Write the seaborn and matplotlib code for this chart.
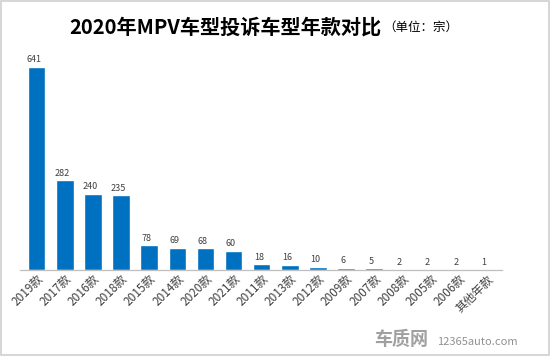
import matplotlib
matplotlib.use("Agg")
import matplotlib.pyplot as plt
import pandas as pd
import seaborn as sns
from matplotlib.patches import Rectangle

# Data
years = ["2019款", "2017款", "2016款", "2018款", "2015款", "2014款", "2020款", "2021款",
         "2011款", "2013款", "2012款", "2009款", "2007款", "2008款", "2005款", "2006款", "其他年款"]
complaints = [641, 282, 240, 235, 78, 69, 68, 60, 18, 16, 10, 6, 5, 2, 2, 2, 1]

df = pd.DataFrame({"year": years, "count": complaints})

sns.set_theme(style="white")
plt.rcParams["font.family"] = ["Noto Sans CJK SC", "DejaVu Sans"]

fig = plt.figure(figsize=(5.5, 3.56), dpi=100)
ax = fig.add_axes([0.036, 0.242, 0.877, 0.623])

sns.barplot(df, x="year", y="count", color="#0070C0", saturation=1, width=0.62, ax=ax)

ax.set_ylim(0, 700)
ax.set_xlim(-0.6, len(years) - 0.45)
ax.set(xlabel="", ylabel="", yticks=[])
for s in ["top", "right", "left"]:
    ax.spines[s].set_visible(False)
ax.spines["bottom"].set_color("#bfbfbf")
ax.spines["bottom"].set_linewidth(0.9)

for i, v in enumerate(complaints):
    ax.text(i - 0.1, v + 8, str(v), ha="center", va="bottom", fontsize=6.5, color="#404040")

ax.tick_params(axis="x", length=0, pad=2)
plt.setp(ax.get_xticklabels(), rotation=45, ha="right", rotation_mode="anchor",
         fontsize=8.5, color="#404040")

# Title
fig.text(0.41, 0.925, "2020年MPV车型投诉车型年款对比", ha="center", va="center",
         fontsize=14.5, fontweight="bold", color="#000000")
fig.text(0.765, 0.922, "（单位：宗）", ha="center", va="center", fontsize=9, color="#000000")

# Watermark
fig.text(0.68, 0.045, "车质网", ha="left", va="center", fontsize=13, fontweight="bold",
         color="#a0a0a0")
fig.text(0.795, 0.04, "12365auto.com", ha="left", va="center", fontsize=8, color="#909090")

# Border
fig.patches.append(Rectangle((0.002, 0.003), 0.996, 0.994, transform=fig.transFigure,
                             fill=False, edgecolor="#d0d0d0", linewidth=1.2))

fig.savefig("out.png", dpi=100)
